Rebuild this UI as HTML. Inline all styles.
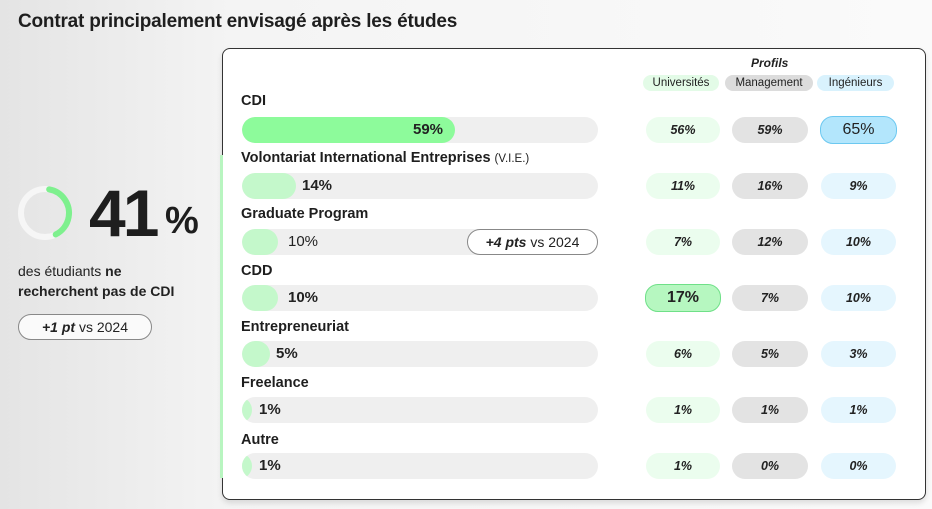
<!DOCTYPE html>
<html><head><meta charset="utf-8"><style>
*{margin:0;padding:0;box-sizing:border-box}
body{width:932px;height:509px;overflow:hidden;font-family:"Liberation Sans",sans-serif;color:#222;background:linear-gradient(90deg,#e4e4e4 0%,#f4f4f4 25%,#fafafa 100%);position:relative}
.a{position:absolute}
.title{left:18px;top:11px;font-size:19px;font-weight:bold;color:#1e1e1e;letter-spacing:-0.2px}
.card{left:222px;top:48px;width:704px;height:452px;background:#fff;border:1.5px solid #333;border-radius:8px;box-shadow:0 3px 6px rgba(0,0,0,.12)}
.gl{left:220px;top:155px;width:3px;height:323px;background:#b8f5c0}
.lbl{left:241px;font-size:14.5px;font-weight:bold;color:#1e1e1e}
.trk{left:242px;width:356px;height:26px;border-radius:13px;background:#efefef;overflow:hidden}
.fill{position:absolute;top:0;height:26px;border-radius:13px;background:#c4f8cb}
.val{font-size:15px;font-weight:bold;color:#222}
.pill{height:26px;border-radius:13px;font-size:12.5px;font-weight:bold;font-style:italic;display:flex;align-items:center;justify-content:center;color:#222}
.u{left:646px;width:74px;background:#ebfdee}
.m{left:732px;width:76px;background:#e3e3e3}
.i{left:821px;width:75px;background:#e5f6fe}
.hp{top:75px;height:16px;border-radius:8px;font-size:11.5px;display:flex;align-items:center;justify-content:center;color:#222}
</style></head><body>
<div class="a title">Contrat principalement envisagé après les études</div>

<svg class="a" style="left:15px;top:183px" width="60" height="60" viewBox="0 0 60 60">
<circle cx="30" cy="30" r="24" fill="none" stroke="#f6f6f6" stroke-width="6"/>
<circle cx="30" cy="30" r="24" fill="none" stroke="#7ef08e" stroke-width="6" stroke-linecap="round" stroke-dasharray="60 200" transform="rotate(-80 30 30)"/>
</svg>
<div class="a" style="left:89px;top:176px;font-size:66px;font-weight:bold;letter-spacing:-3px;color:#1e1e1e;line-height:74px">41</div>
<div class="a" style="left:165px;top:200px;font-size:38px;font-weight:bold;color:#1e1e1e">%</div>
<div class="a" style="left:18px;top:261px;font-size:14px;line-height:20px;color:#222">des étudiants <b>ne<br>recherchent pas de CDI</b></div>
<div class="a" style="left:18px;top:314px;width:134px;height:26px;border:1px solid #888;border-radius:13px;background:#fafafa;font-size:14px;display:flex;align-items:center;justify-content:center"><b><i>+1 pt</i></b>&nbsp;vs 2024</div>

<div class="a card"></div>
<div class="a gl"></div>

<div class="a" style="left:751px;top:56px;font-size:12px;font-weight:bold;font-style:italic">Profils</div>
<div class="a hp" style="left:643px;width:76px;background:#e3fbe7">Universités</div>
<div class="a hp" style="left:725px;width:88px;background:#dcdcdc">Management</div>
<div class="a hp" style="left:817px;width:77px;background:#d9f2fd">Ingénieurs</div>

<div class="a lbl" style="top:93px">CDI</div>
<div class="a trk" style="top:117px"><div class="fill" style="left:0;width:213px;background:#8dfb9b"></div></div>
<div class="a val" style="left:413px;top:121px">59%</div>
<div class="a pill u" style="top:117px">56%</div><div class="a pill m" style="top:117px">59%</div>
<div class="a pill" style="left:820px;width:77px;top:116px;height:28px;background:#b3e6fc;border:1.5px solid #6cc8f0;font-size:16px;font-style:normal;font-weight:normal">65%</div>

<div class="a lbl" style="top:150px">Volontariat International Entreprises <span style="font-weight:normal;font-size:11.5px">(V.I.E.)</span></div>
<div class="a trk" style="top:173px"><div class="fill" style="left:0;width:54px"></div></div>
<div class="a val" style="left:302px;top:177px">14%</div>
<div class="a pill u" style="top:173px">11%</div><div class="a pill m" style="top:173px">16%</div><div class="a pill i" style="top:173px">9%</div>

<div class="a lbl" style="top:206px">Graduate Program</div>
<div class="a trk" style="top:229px"><div class="fill" style="left:0;width:36px"></div></div>
<div class="a val" style="left:288px;top:233px;font-weight:normal">10%</div>
<div class="a" style="left:467px;top:229px;width:131px;height:26px;border:1px solid #888;border-radius:13px;background:#fff;font-size:14px;display:flex;align-items:center;justify-content:center"><b><i>+4 pts</i></b>&nbsp;vs 2024</div>
<div class="a pill u" style="top:229px">7%</div><div class="a pill m" style="top:229px">12%</div><div class="a pill i" style="top:229px">10%</div>

<div class="a lbl" style="top:263px">CDD</div>
<div class="a trk" style="top:285px"><div class="fill" style="left:0;width:36px"></div></div>
<div class="a val" style="left:288px;top:289px">10%</div>
<div class="a pill" style="left:645px;width:76px;top:284px;height:28px;background:#b6f7c0;border:1.5px solid #6fe088;font-size:16px;font-style:normal">17%</div>
<div class="a pill m" style="top:285px">7%</div><div class="a pill i" style="top:285px">10%</div>

<div class="a lbl" style="top:319px">Entrepreneuriat</div>
<div class="a trk" style="top:341px"><div class="fill" style="left:0;width:28px"></div></div>
<div class="a val" style="left:276px;top:345px">5%</div>
<div class="a pill u" style="top:341px">6%</div><div class="a pill m" style="top:341px">5%</div><div class="a pill i" style="top:341px">3%</div>

<div class="a lbl" style="top:375px">Freelance</div>
<div class="a trk" style="top:397px"><div class="fill" style="left:-16px;width:26px"></div></div>
<div class="a val" style="left:259px;top:401px">1%</div>
<div class="a pill u" style="top:397px">1%</div><div class="a pill m" style="top:397px">1%</div><div class="a pill i" style="top:397px">1%</div>

<div class="a lbl" style="top:432px">Autre</div>
<div class="a trk" style="top:453px"><div class="fill" style="left:-16px;width:26px"></div></div>
<div class="a val" style="left:259px;top:457px">1%</div>
<div class="a pill u" style="top:453px">1%</div><div class="a pill m" style="top:453px">0%</div><div class="a pill i" style="top:453px">0%</div>
</body></html>
